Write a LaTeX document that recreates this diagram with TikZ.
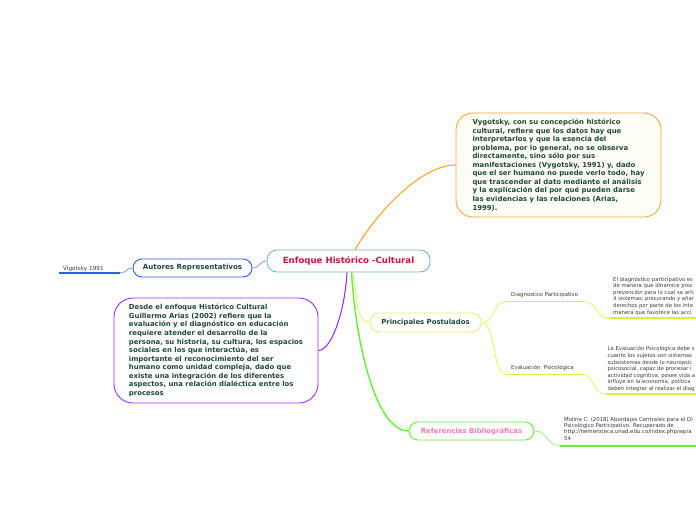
\documentclass[tikz,border=0pt]{standalone}
\usepackage{fontspec}
\setmainfont{DejaVu Sans}
\definecolor{rootblue}{HTML}{74B0E0}
\definecolor{rootred}{HTML}{C8173C}
\definecolor{darktxt}{HTML}{1E4A38}
\definecolor{orangeln}{HTML}{F8A630}
\definecolor{creamfill}{HTML}{FFFEF6}
\definecolor{autblue}{HTML}{2E5CE6}
\definecolor{lightblue}{HTML}{8FA8F0}
\definecolor{purpleln}{HTML}{A030F0}
\definecolor{yellowln}{HTML}{E2F56E}
\definecolor{yellowthick}{HTML}{D6F03C}
\definecolor{greenln}{HTML}{66EE33}
\definecolor{lightgreen}{HTML}{A8F090}
\definecolor{pinktxt}{HTML}{F07CAE}
\definecolor{graytxt}{HTML}{3A3A3A}
\tikzset{
  topic/.style={draw, fill=white, line width=0.9pt, inner sep=0pt, rounded corners=9pt, font=\bfseries\fontsize{6.9}{8}\selectfont, text=darktxt},
  bigbox/.style={draw, line width=0.9pt, inner sep=0pt, rounded corners=17pt, align=left, font=\bfseries\fontsize{6.9}{8.55}\selectfont, text=darktxt},
  smalltxt/.style={inner sep=0pt, align=left, font=\fontsize{5.3}{6.6}\selectfont, text=graytxt},
  leaflabel/.style={inner sep=0pt, font=\fontsize{5.4}{6}\selectfont, text=graytxt},
}
\begin{document}
\begin{tikzpicture}[x=1pt,y=-1pt]
\useasboundingbox (0,0) rectangle (696,520);
\clip (0,0) rectangle (696,520);

% main nodes
\node[topic, draw=rootblue, minimum width=163pt, minimum height=22pt, rounded corners=10pt, text=rootred, font=\bfseries\fontsize{8.6}{9}\selectfont] (root) at (348.5,261) {Enfoque Histórico -Cultural};

\node[bigbox, draw=orangeln, fill=creamfill, minimum width=205pt, minimum height=104pt] (vyg) at (558.5,165) {Vygotsky, con su concepción histórico\\cultural, refiere que los datos hay que\\interpretarlos y que la esencia del\\problema, por lo general, no se observa\\directamente, sino sólo por sus\\manifestaciones (Vygotsky, 1991) y, dado\\que el ser humano no puede verlo todo, hay\\que trascender al dato mediante el análisis\\y la explicación del por qué pueden darse\\las evidencias y las relaciones (Arias,\\1999).};

\node[topic, draw=autblue, minimum width=119pt, minimum height=18pt, font=\bfseries\fontsize{7.1}{8}\selectfont] (aut) at (192.5,268) {Autores Representativos};

\node[bigbox, draw=purpleln, fill=white, minimum width=204pt, minimum height=105pt, rounded corners=19pt] (arias) at (216,350.5) {Desde el enfoque Histórico Cultural\\Guillermo Arias (2002) refiere que la\\evaluación y el diagnóstico en educación\\requiere atender el desarrollo de la\\persona, su historia, su cultura, los espacios\\sociales en los que interactúa, es\\importante el reconocimiento del ser\\humano como unidad compleja, dado que\\existe una integración de los diferentes\\aspectos, una relación dialéctica entre los\\procesos};

\node[topic, draw=yellowln, minimum width=111pt, minimum height=19pt] (post) at (425.5,322.5) {Principales Postulados};

\node[topic, draw=greenln, minimum width=125pt, minimum height=18pt, text=pinktxt, font=\bfseries\fontsize{6.9}{8}\selectfont] (refs) at (471.5,431) {Referencias Bibliográficas};

% leaf labels
\node[leaflabel, anchor=west, font=\fontsize{5.7}{6}\selectfont] (vig) at (63,268.5) {Vigotsky 1991};
\coordinate (vigA) at (120,272.8);
\coordinate (vigB) at (59,272.8);

\node[leaflabel, anchor=west] (diag) at (511,295.5) {Diagnostico Participativo};
\coordinate (diagA) at (506,301.7);
\coordinate (diagB) at (584,301.7);
\coordinate (diagC) at (609,318);
\coordinate (diagD) at (697,318);

\node[leaflabel, anchor=west] (eval) at (511,368.3) {Evaluación\ \ Psicológica};
\coordinate (evalA) at (506,374.2);
\coordinate (evalB) at (581,374.2);
\coordinate (evalC) at (606,394);
\coordinate (evalD) at (697,394);

\coordinate (refA) at (560,445.5);
\coordinate (refB) at (697,445.5);

% right text blocks
\node[smalltxt, anchor=north west] (t1) at (613,276.6) {El diagnóstico participativo es\\de manera que dinamice proc\\prevención para lo cual se arti\\4 sistemas, procurando y añar\\derechos por parte de los inte\\manera que favorece las acci};
\node[smalltxt, anchor=north west] (t2) at (607.5,346.4) {La Evaluación Psicológica debe s\\cuanto los sujetos son sistemas\\subsistemas desde lo neuropsic\\psicosocial, capaz de procesar i\\actividad cognitiva, posee vida a\\influye en la economía, política\\deben integrar al realizar el diag};
\node[smalltxt, anchor=north west, font=\fontsize{5.4}{6.2}\selectfont] (t3) at (564,417.2) {Molina C. (2018) Abordajes Centrales para el Di\\Psicológico Participativo. Recuperado de\\http://hemeroteca.unad.edu.co/index.php/wp/a\\54};

% connectors from root
\draw[orangeln, line width=1.1pt] ([xshift=6.5pt]root.north) .. controls (375,215) and (420,165) .. (vyg.west);
\draw[lightblue, line width=1pt] (root.west) .. controls (259,261) and (260,268) .. (aut.east);
\draw[lightblue, line width=1pt] (aut.west) .. controls (126,268) and (127,272.8) .. (vigA);
\draw[autblue, line width=1.8pt] (vigA) -- (vigB);
\draw[purpleln, line width=1.1pt] ([xshift=-1.5pt]root.south) .. controls (345,310) and (332,350) .. (arias.east);
\draw[yellowln, line width=1pt] ([xshift=4.5pt]root.south) .. controls (357,305) and (358,322.5) .. (post.west);
\draw[greenln, line width=1.4pt] ([xshift=3pt]root.south) .. controls (356,345) and (376,431) .. (refs.west);

% Principales branches
\draw[yellowln, line width=0.9pt] (post.east) .. controls (496,322.5) and (492,301.7) .. (diagA);
\draw[yellowthick, line width=1.4pt] (diagA) -- (diagB);
\draw[yellowln, line width=0.9pt] (diagB) .. controls (598,301.7) and (595,318) .. (diagC);
\draw[yellowthick, line width=2pt] (diagC) -- (diagD);

\draw[yellowln, line width=0.9pt] (post.east) .. controls (496,322.5) and (492,374.2) .. (evalA);
\draw[yellowthick, line width=1.4pt] (evalA) -- (evalB);
\draw[yellowln, line width=0.9pt] (evalB) .. controls (595,374.2) and (592,394) .. (evalC);
\draw[yellowthick, line width=2pt] (evalC) -- (evalD);

% References branch
\draw[lightgreen, line width=0.9pt] (refs.east) .. controls (548,431) and (546,445.5) .. (refA);
\draw[greenln, line width=2pt] (refA) -- (refB);
\end{tikzpicture}
\end{document}
